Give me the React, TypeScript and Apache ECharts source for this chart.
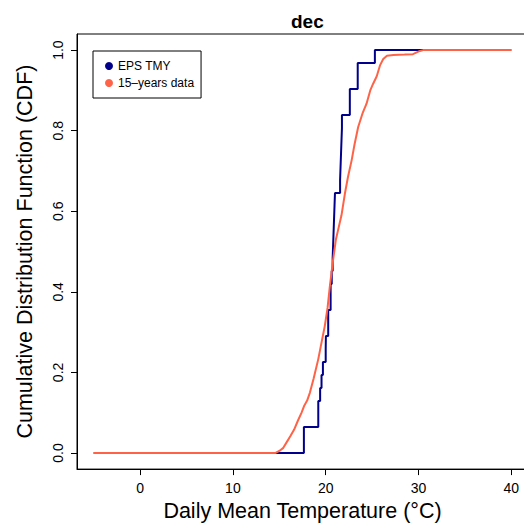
import React, { useEffect, useRef } from "react";
import * as echarts from "echarts";

// EPS TMY: 31 December daily mean temperatures (sorted), read from the step ECDF
const epsValues = [
  17.65, 17.65, 19.2, 19.2, 19.4, 19.55, 19.7, 20.0, 20.02, 20.27, 20.27,
  20.53, 20.53, 20.65, 20.75, 20.8, 20.85, 20.9, 20.95, 21.0, 21.55, 21.6,
  21.65, 21.7, 21.75, 21.75, 22.6, 22.6, 23.45, 23.45, 25.3,
];

const obsX = [
  -5, 14.6, 15.0, 15.4, 15.8, 16.2, 16.6, 17.0, 17.4, 17.7, 18.0, 18.3, 18.7,
  19.2, 19.6, 19.9, 20.2, 20.45, 20.8, 21.1, 21.4, 21.7, 22.07, 22.4, 22.8,
  23.1, 23.5, 24.0, 24.4, 24.8, 25.1, 25.5, 25.85, 26.2, 26.6, 27.3, 28.5,
  29.4, 30.15, 30.5, 40,
];
const obsY = [
  0, 0, 0.005, 0.012, 0.027, 0.042, 0.058, 0.08, 0.1, 0.118, 0.13, 0.15, 0.185,
  0.233, 0.28, 0.315, 0.36, 0.414, 0.48, 0.53, 0.56, 0.59, 0.644, 0.685, 0.727,
  0.765, 0.809, 0.845, 0.867, 0.9, 0.916, 0.935, 0.962, 0.978, 0.986, 0.988,
  0.989, 0.99, 0.998, 1, 1,
];

const xTicks = [0, 10, 20, 30, 40];
const yTicks = [0, 0.2, 0.4, 0.6, 0.8, 1.0];
const xRange = [-5, 40];

const seriesNames = ["EPS TMY", "15\u2013years data"];
const colors = ["#00008B", "#FF6347"];

const FONT = "Liberation Sans, Arial, Helvetica, sans-serif";

function ecdfStairs(values: number[], x0: number, x1: number) {
  const v = [...values].sort((a, b) => a - b);
  const n = v.length;
  const pts: number[][] = [[x0, 0]];
  v.forEach((val, i) => {
    pts.push([val, i / n]);
    pts.push([val, (i + 1) / n]);
  });
  pts.push([x1, 1]);
  return pts;
}

export default function App() {
  const ref = useRef<HTMLDivElement>(null);
  useEffect(() => {
    if (!ref.current) return;
    const chart = echarts.init(ref.current, undefined, { renderer: "svg" });
    const epsData = ecdfStairs(epsValues, xRange[0], xRange[1]);
    const obsData = obsX.map((x, i) => [x, obsY[i]]);
    chart.setOption({
      animation: false,
      backgroundColor: "#fff",
      textStyle: { fontFamily: FONT },
      title: {
        text: "dec",
        left: 286,
        top: 7,
        textStyle: { fontSize: 19, fontWeight: "bold", color: "#000", fontFamily: FONT },
      },
      legend: {
        orient: "vertical",
        left: 93,
        top: 51,
        padding: [8, 7, 8, 12],
        itemGap: 3,
        itemWidth: 8,
        itemHeight: 8,
        borderColor: "#000",
        borderWidth: 1,
        borderRadius: 0,
        icon: "circle",
        data: seriesNames,
        textStyle: { fontSize: 12, lineHeight: 14, color: "#000", fontFamily: FONT },
      },
      grid: {
        left: 77,
        top: 34,
        width: 451,
        height: 437,
        show: true,
        borderColor: "#000",
        borderWidth: 1,
        containLabel: false,
      },
      xAxis: {
        type: "value",
        min: -6.8,
        max: 41.8,
        name: "Daily Mean Temperature (\u00b0C)",
        nameLocation: "middle",
        nameGap: 29,
        nameTextStyle: { fontSize: 21.5, color: "#000", fontFamily: FONT },
        axisLine: { show: true, onZero: false, lineStyle: { color: "#000", width: 1 } },
        axisTick: { show: true, length: 6, customValues: xTicks, lineStyle: { color: "#000" } },
        axisLabel: {
          customValues: xTicks,
          fontSize: 14,
          margin: 12,
          color: "#000",
          fontFamily: FONT,
        },
        splitLine: { show: false },
      },
      yAxis: {
        type: "value",
        min: -0.04,
        max: 1.04,
        name: "Cumulative Distribution Function (CDF)",
        nameLocation: "middle",
        nameGap: 41,
        nameTextStyle: { fontSize: 21.5, color: "#000", fontFamily: FONT },
        axisLine: { show: true, onZero: false, lineStyle: { color: "#000", width: 1 } },
        axisTick: { show: true, length: 6, customValues: yTicks, lineStyle: { color: "#000" } },
        axisLabel: {
          customValues: yTicks,
          rotate: 90,
          fontSize: 14,
          margin: 12,
          color: "#000",
          fontFamily: FONT,
          formatter: (v: number) => v.toFixed(1),
        },
        splitLine: { show: false },
      },
      series: [
        {
          name: seriesNames[0],
          type: "line",
          data: epsData,
          showSymbol: false,
          symbol: "none",
          color: colors[0],
          lineStyle: { color: colors[0], width: 2 },
          itemStyle: { color: colors[0] },
          z: 2,
        },
        {
          name: seriesNames[1],
          type: "line",
          data: obsData,
          showSymbol: false,
          symbol: "none",
          color: colors[1],
          lineStyle: { color: colors[1], width: 2 },
          itemStyle: { color: colors[1] },
          z: 3,
        },
      ],
    });
    return () => chart.dispose();
  }, []);
  return (
    <div
      ref={ref}
      style={{ position: "fixed", left: 0, top: 0, width: 540, height: 527, background: "#fff" }}
    />
  );
}
